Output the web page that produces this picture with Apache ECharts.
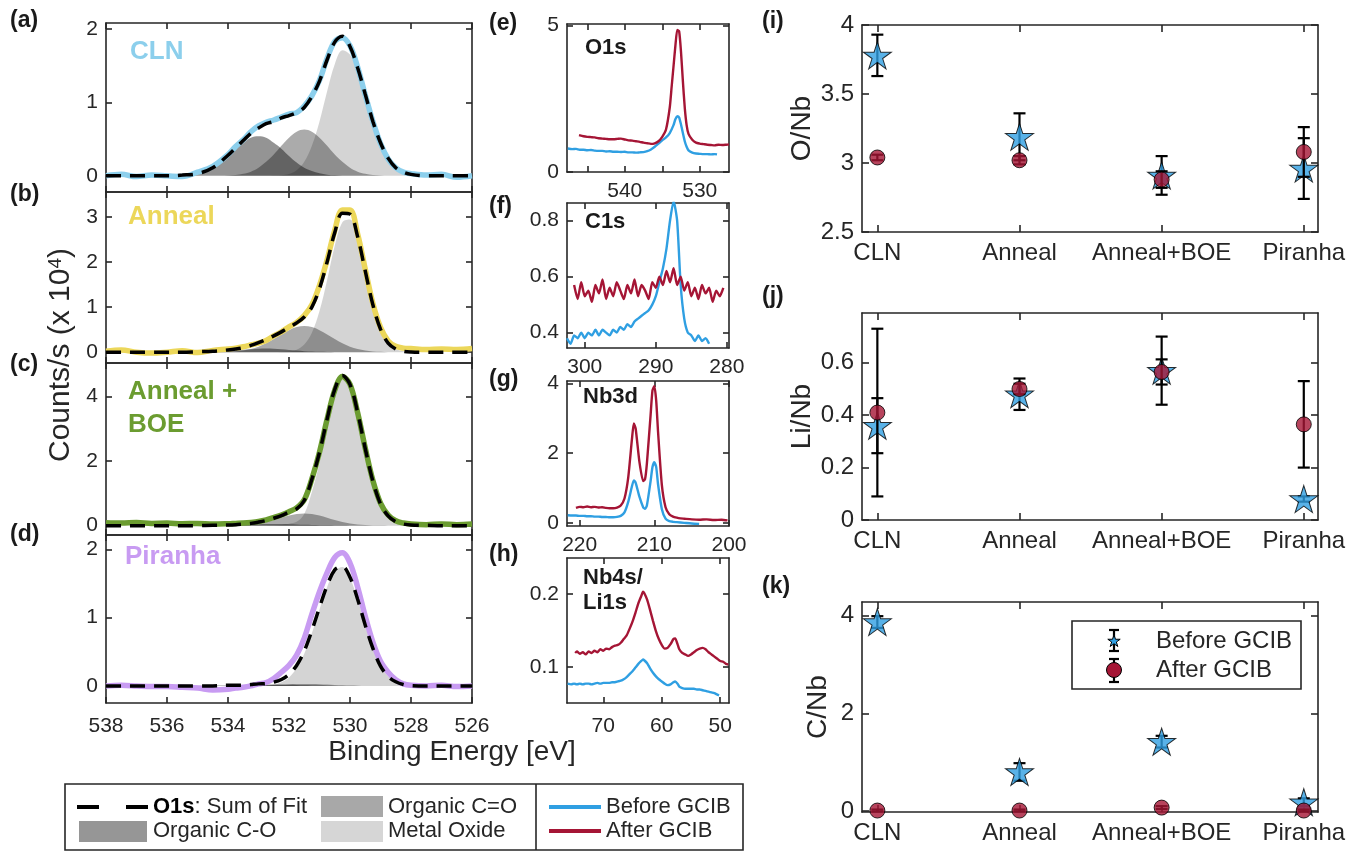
<!DOCTYPE html>
<html>
<head>
<meta charset="utf-8">
<title>XPS O1s fits and element ratios</title>
<script src="https://cdn.jsdelivr.net/npm/echarts@6/dist/echarts.min.js"></script>
<style>
  html, body { margin: 0; padding: 0; background: #fff; }
  #chart { width: 1372px; height: 853px; }
</style>
</head>
<body>
<div id="chart"></div>
<script>
// ---- (a)-(d): O1s spectra, binding energy grid shared by all four panels ----
const gridE = [538, 537.5, 537, 536.5, 536, 535.5, 535, 534.5, 534,
  533.75, 533.5, 533.25, 533, 532.75, 532.5, 532.25, 532,
  531.75, 531.5, 531.25, 531, 530.75, 530.5, 530.25, 530,
  529.75, 529.5, 529.25, 529, 528.75, 528.5, 528.25, 528,
  527.5, 527, 526.5, 526];

// CLN
const clnData = [0.00, 0.02, -0.01, 0.01, 0.00, -0.01, 0.05, 0.13, 0.29,
  0.40, 0.49, 0.60, 0.68, 0.73, 0.76, 0.80, 0.84,
  0.86, 0.95, 1.09, 1.30, 1.60, 1.83, 1.88, 1.77,
  1.48, 1.10, 0.74, 0.44, 0.23, 0.11, 0.05, 0.03,
  0.01, 0.02, -0.02, 0.00];
const clnFit = [0, 0, 0, 0, 0, 0.01, 0.03, 0.11, 0.28,
  0.38, 0.48, 0.58, 0.65, 0.71, 0.74, 0.79, 0.82,
  0.86, 0.93, 1.08, 1.29, 1.58, 1.82, 1.90, 1.76,
  1.47, 1.11, 0.74, 0.45, 0.24, 0.11, 0.05, 0.02,
  0, 0, 0, 0];
const clnCO = [0, 0, 0, 0, 0, 0.01, 0.03, 0.11, 0.27,
  0.37, 0.45, 0.52, 0.54, 0.52, 0.45, 0.37, 0.27,
  0.18, 0.11, 0.065, 0.034, 0.016, 0.007, 0, 0,
  0, 0, 0, 0, 0, 0, 0, 0,
  0, 0, 0, 0];
const clnCdO = [0, 0, 0, 0, 0, 0, 0, 0, 0.005,
  0.012, 0.028, 0.057, 0.11, 0.19, 0.29, 0.41, 0.52,
  0.60, 0.63, 0.60, 0.52, 0.41, 0.29, 0.19, 0.11,
  0.057, 0.028, 0.012, 0.005, 0, 0, 0, 0,
  0, 0, 0, 0];
const clnMO = [0, 0, 0, 0, 0, 0, 0, 0, 0,
  0, 0, 0, 0, 0, 0.003, 0.008, 0.025,
  0.075, 0.19, 0.41, 0.74, 1.15, 1.52, 1.71, 1.65,
  1.41, 1.08, 0.73, 0.44, 0.24, 0.11, 0.048, 0.018,
  0.002, 0, 0, 0];

// Anneal
const annData = [0.02, 0.05, 0.00, -0.02, 0.00, 0.03, -0.01, 0.04, 0.07,
  0.09, 0.12, 0.16, 0.20, 0.26, 0.36, 0.45, 0.56,
  0.66, 0.81, 1.05, 1.48, 2.05, 2.70, 3.15, 3.15,
  2.62, 1.84, 1.08, 0.55, 0.25, 0.13, 0.09, 0.08,
  0.06, 0.07, 0.06, 0.08];
const annFit = [0, 0, 0, 0, 0, 0, 0.01, 0.02, 0.05,
  0.07, 0.10, 0.15, 0.21, 0.28, 0.36, 0.45, 0.55,
  0.65, 0.78, 1.00, 1.41, 2.00, 2.65, 3.08, 3.06,
  2.56, 1.80, 1.05, 0.51, 0.20, 0.07, 0.02, 0.005,
  0, 0, 0, 0];
const annCO = [0, 0, 0, 0, 0, 0.005, 0.01, 0.02, 0.035,
  0.045, 0.055, 0.065, 0.075, 0.08, 0.075, 0.065, 0.05,
  0.035, 0.022, 0.013, 0.007, 0.003, 0, 0, 0,
  0, 0, 0, 0, 0, 0, 0, 0,
  0, 0, 0, 0];
const annCdO = [0, 0, 0, 0, 0, 0, 0, 0, 0.007,
  0.017, 0.036, 0.07, 0.122, 0.197, 0.29, 0.393, 0.488,
  0.556, 0.58, 0.556, 0.488, 0.393, 0.29, 0.197, 0.122,
  0.07, 0.036, 0.017, 0.007, 0, 0, 0, 0,
  0, 0, 0, 0];
const annMO = [0, 0, 0, 0, 0, 0, 0, 0, 0,
  0, 0, 0, 0, 0, 0, 0.005, 0.015,
  0.055, 0.17, 0.43, 0.91, 1.60, 2.36, 2.88, 2.94,
  2.49, 1.76, 1.03, 0.50, 0.20, 0.07, 0.02, 0.005,
  0, 0, 0, 0];

// Anneal + BOE
const boeData = [0.09, 0.08, 0.10, 0.07, 0.08, 0.06, 0.07, 0.05, 0.06,
  0.07, 0.08, 0.10, 0.13, 0.18, 0.25, 0.33, 0.43,
  0.55, 0.80, 1.45, 2.28, 3.30, 4.20, 4.62, 4.38,
  3.50, 2.40, 1.40, 0.70, 0.33, 0.15, 0.08, 0.05,
  0.03, 0.05, 0.03, 0.05];
const boeFit = [0, 0, 0, 0, 0, 0, 0, 0.01, 0.02,
  0.03, 0.05, 0.07, 0.11, 0.16, 0.23, 0.31, 0.42,
  0.52, 0.78, 1.44, 2.27, 3.30, 4.22, 4.65, 4.38,
  3.51, 2.39, 1.38, 0.67, 0.30, 0.12, 0.05, 0.02,
  0.01, 0, 0, 0];
const boeCO = [0, 0, 0, 0, 0, 0, 0.002, 0.007, 0.016,
  0.023, 0.03, 0.038, 0.044, 0.048, 0.05, 0.048, 0.044,
  0.038, 0.03, 0.023, 0.016, 0.011, 0.007, 0.003, 0,
  0, 0, 0, 0, 0, 0, 0, 0,
  0, 0, 0, 0];
const boeCdO = [0, 0, 0, 0, 0, 0, 0, 0, 0.003,
  0.007, 0.017, 0.035, 0.065, 0.112, 0.174, 0.245, 0.313,
  0.362, 0.38, 0.362, 0.313, 0.245, 0.174, 0.112, 0.065,
  0.035, 0.017, 0.007, 0.003, 0, 0, 0, 0,
  0, 0, 0, 0];
const boeMO = [0, 0, 0, 0, 0, 0, 0, 0, 0,
  0, 0, 0, 0, 0, 0.005, 0.02, 0.06,
  0.12, 0.36, 1.05, 1.94, 3.04, 4.04, 4.54, 4.31,
  3.47, 2.37, 1.37, 0.67, 0.30, 0.12, 0.05, 0.02,
  0.005, 0, 0, 0];

// Piranha
const pirData = [0.00, 0.01, 0.00, -0.01, -0.01, -0.02, -0.03, -0.06, -0.05,
  -0.03, -0.02, 0.00, 0.03, 0.05, 0.11, 0.20, 0.30,
  0.45, 0.70, 1.05, 1.38, 1.66, 1.88, 1.95, 1.80,
  1.45, 1.02, 0.64, 0.36, 0.20, 0.09, 0.03, 0.01,
  0.00, 0.01, -0.01, 0.00];
const pirFit = [0, 0, 0, 0, 0, 0, 0, 0, 0.01,
  0.01, 0.01, 0.02, 0.03, 0.035, 0.055, 0.095, 0.17,
  0.30, 0.51, 0.81, 1.15, 1.47, 1.70, 1.75, 1.59,
  1.27, 0.89, 0.55, 0.29, 0.14, 0.06, 0.02, 0.005,
  0, 0, 0, 0];
const pirCO = [0, 0, 0, 0, 0, 0, 0.002, 0.003, 0.005,
  0.008, 0.012, 0.015, 0.018, 0.019, 0.02, 0.019, 0.017,
  0.014, 0.01, 0.008, 0.005, 0.002, 0, 0, 0,
  0, 0, 0, 0, 0, 0, 0, 0,
  0, 0, 0, 0];
const pirCdO = [0, 0, 0, 0, 0, 0, 0, 0, 0,
  0, 0, 0.004, 0.007, 0.011, 0.015, 0.021, 0.026,
  0.029, 0.03, 0.029, 0.026, 0.021, 0.015, 0.011, 0.007,
  0.004, 0, 0, 0, 0, 0, 0, 0,
  0, 0, 0, 0];
const pirMO = [0, 0, 0, 0, 0, 0, 0, 0, 0,
  0, 0, 0, 0, 0.005, 0.02, 0.055, 0.125,
  0.26, 0.47, 0.77, 1.12, 1.45, 1.68, 1.74, 1.58,
  1.27, 0.89, 0.55, 0.29, 0.14, 0.06, 0.02, 0.005,
  0, 0, 0, 0];

// ---- (e)-(h): survey regions before / after GCIB, [binding energy, counts] ----
const o1sBefore = [[547.6, 0.80], [547, 0.78], [546.5, 0.79], [546, 0.76], [545.5, 0.76], [545, 0.74],
  [544.5, 0.75], [544, 0.73], [543.5, 0.72], [543, 0.72], [542.5, 0.70], [542, 0.71], [541.5, 0.69],
  [541, 0.69], [540.5, 0.68], [540, 0.69], [539.5, 0.67], [539, 0.67], [538.5, 0.66], [538, 0.67],
  [537.5, 0.68], [537, 0.71], [536.5, 0.77], [536, 0.86], [535.5, 0.97], [535, 1.08], [534.5, 1.18],
  [534, 1.33], [533.5, 1.60], [533.25, 1.80], [533, 1.90], [532.75, 1.86], [532.5, 1.62], [532.25, 1.33],
  [532, 1.05], [531.75, 0.86], [531.5, 0.74], [531, 0.66], [530.5, 0.63], [530, 0.62], [529.5, 0.61],
  [529, 0.61], [528.5, 0.60], [528, 0.61], [527.7, 0.60]];
const o1sAfter = [[546.1, 1.26], [545.5, 1.22], [545, 1.20], [544.5, 1.19], [544, 1.18], [543.5, 1.15],
  [543, 1.14], [542.5, 1.13], [542, 1.12], [541.5, 1.12], [541, 1.13], [540.5, 1.14], [540, 1.11],
  [539.5, 1.08], [539, 1.07], [538.5, 1.05], [538, 1.03], [537.5, 1.00], [537, 0.98], [536.5, 0.96],
  [536, 0.98], [535.5, 1.05], [535, 1.20], [534.5, 1.45], [534, 2.20], [533.75, 2.90], [533.5, 3.60],
  [533.25, 4.30], [533, 4.85], [532.75, 4.80], [532.5, 4.10], [532.25, 3.10], [532, 2.20], [531.75, 1.60],
  [531.5, 1.30], [531, 1.10], [530.5, 1.00], [530, 0.97], [529.5, 0.95], [529, 0.93], [528.5, 0.92],
  [528, 0.91], [527.5, 0.93], [527, 0.92], [526.5, 0.93], [526.1, 0.94]];

const c1sBefore = [[302.5, 0.38], [302, 0.36], [301.5, 0.39], [301, 0.38], [300.5, 0.40], [300, 0.38],
  [299.5, 0.40], [299, 0.39], [298.5, 0.41], [298, 0.39], [297.5, 0.41], [297, 0.40], [296.5, 0.39],
  [296, 0.41], [295.5, 0.40], [295, 0.42], [294.5, 0.41], [294, 0.43], [293.5, 0.42], [293, 0.44],
  [292.5, 0.45], [292, 0.46], [291.5, 0.47], [291, 0.48], [290.5, 0.50], [290, 0.53], [289.5, 0.58],
  [289, 0.63], [288.5, 0.70], [288, 0.80], [287.5, 0.87], [287, 0.80], [286.5, 0.57], [286, 0.45],
  [285.5, 0.40], [285, 0.39], [284.5, 0.37], [284, 0.39], [283.5, 0.37], [283, 0.38], [282.5, 0.36]];
const c1sAfter = [[301.5, 0.57], [301, 0.52], [300.5, 0.58], [300, 0.53], [299.5, 0.55], [299, 0.51],
  [298.5, 0.57], [298, 0.54], [297.5, 0.59], [297, 0.52], [296.5, 0.56], [296, 0.53], [295.5, 0.58],
  [295, 0.55], [294.5, 0.52], [294, 0.57], [293.5, 0.54], [293, 0.59], [292.5, 0.53], [292, 0.57],
  [291.5, 0.55], [291, 0.52], [290.5, 0.58], [290, 0.56], [289.5, 0.60], [289, 0.57], [288.5, 0.62],
  [288, 0.58], [287.5, 0.63], [287, 0.57], [286.5, 0.60], [286, 0.55], [285.5, 0.58], [285, 0.53],
  [284.5, 0.56], [284, 0.52], [283.5, 0.57], [283, 0.54], [282.5, 0.56], [282, 0.51], [281.5, 0.55],
  [281, 0.53], [280.5, 0.56]];

const nb3dBefore = [[221.6, 0.22], [221, 0.21], [220.5, 0.21], [220, 0.20], [219.5, 0.20], [219, 0.19],
  [218.5, 0.19], [218, 0.18], [217.5, 0.18], [217, 0.17], [216.5, 0.17], [216, 0.16], [215.5, 0.16],
  [215, 0.17], [214.5, 0.20], [214, 0.30], [213.5, 0.60], [213, 1.05], [212.75, 1.22], [212.5, 1.15],
  [212, 0.75], [211.5, 0.45], [211.25, 0.40], [211, 0.50], [210.5, 1.20], [210.25, 1.60], [210, 1.74],
  [209.75, 1.60], [209.5, 1.10], [209, 0.40], [208.5, 0.12], [208, 0.05], [207.5, 0.03], [207, 0.02],
  [206, 0.00], [205, -0.02], [204, -0.03]];
const nb3dAfter = [[220.5, 0.43], [220, 0.46], [219.5, 0.45], [219, 0.47], [218.5, 0.45], [218, 0.46],
  [217.5, 0.44], [217, 0.45], [216.5, 0.43], [216, 0.42], [215.5, 0.42], [215, 0.44], [214.5, 0.50],
  [214, 0.70], [213.5, 1.30], [213, 2.40], [212.75, 2.85], [212.5, 2.70], [212, 1.75], [211.5, 1.20],
  [211.25, 1.25], [211, 1.70], [210.5, 3.10], [210.25, 3.80], [210, 3.92], [209.75, 3.50], [209.5, 2.60],
  [209, 1.10], [208.5, 0.45], [208, 0.25], [207.5, 0.18], [207, 0.15], [206.5, 0.13], [206, 0.12],
  [205, 0.10], [204, 0.09], [203, 0.10], [202, 0.08], [201, 0.09], [200.2, 0.07]];

const nb4sBefore = [[76.1, 0.077], [75.5, 0.076], [75, 0.077], [74.5, 0.076], [74, 0.077], [73.5, 0.076],
  [73, 0.077], [72.5, 0.077], [72, 0.076], [71.5, 0.077], [71, 0.078], [70.5, 0.077], [70, 0.078],
  [69.5, 0.078], [69, 0.078], [68.5, 0.079], [68, 0.079], [67.5, 0.080], [67, 0.081], [66.5, 0.083],
  [66, 0.086], [65.5, 0.090], [65, 0.094], [64.5, 0.099], [64, 0.104], [63.5, 0.108], [63.2, 0.110],
  [63, 0.109], [62.5, 0.105], [62, 0.098], [61.5, 0.092], [61, 0.087], [60.5, 0.083], [60, 0.080],
  [59.5, 0.077], [59, 0.075], [58.5, 0.076], [58, 0.079], [57.7, 0.080], [57.3, 0.077], [57, 0.073],
  [56.5, 0.071], [56, 0.070], [55.5, 0.070], [55, 0.070], [54.5, 0.070], [54, 0.069], [53.5, 0.069],
  [53, 0.068], [52.5, 0.067], [52, 0.066], [51.5, 0.065], [51, 0.064], [50.5, 0.062], [50.2, 0.061]];
const nb4sAfter = [[74.8, 0.119], [74.5, 0.121], [74, 0.118], [73.5, 0.120], [73, 0.117], [72.5, 0.121],
  [72, 0.119], [71.5, 0.122], [71, 0.120], [70.5, 0.124], [70, 0.122], [69.5, 0.125], [69, 0.124],
  [68.5, 0.127], [68, 0.129], [67.5, 0.130], [67, 0.133], [66.5, 0.138], [66, 0.143], [65.5, 0.152],
  [65, 0.162], [64.5, 0.174], [64, 0.187], [63.5, 0.197], [63.2, 0.203], [63, 0.201], [62.5, 0.192],
  [62, 0.178], [61.5, 0.163], [61, 0.149], [60.5, 0.138], [60, 0.130], [59.5, 0.125], [59, 0.126],
  [58.5, 0.131], [58, 0.138], [57.7, 0.139], [57.3, 0.131], [57, 0.124], [56.5, 0.119], [56, 0.117],
  [55.5, 0.115], [55, 0.117], [54.5, 0.120], [54, 0.123], [53.5, 0.125], [53, 0.126], [52.5, 0.124],
  [52, 0.120], [51.5, 0.117], [51, 0.114], [50.5, 0.111], [50, 0.108], [49.5, 0.107], [49, 0.104],
  [48.6, 0.103]];

// ---- (i)-(k): ratios per treatment ----
const treatments = ['CLN', 'Anneal', 'Anneal+BOE', 'Piranha'];
const oNbBefore = [3.78, 3.19, 2.91, 2.96];
const oNbBeforeErr = [0.15, 0.17, 0.14, 0.22];
const oNbAfter = [3.04, 3.02, 2.88, 3.08];
const oNbAfterErr = [0.02, 0.03, 0.06, 0.18];
const liNbBefore = [0.36, 0.48, 0.57, 0.08];
const liNbBeforeErr = [0.105, 0.06, 0.13, 0.01];
const liNbAfter = [0.41, 0.50, 0.565, 0.365];
const liNbAfterErr = [0.32, 0.02, 0.048, 0.165];
const cNbBefore = [3.87, 0.80, 1.42, 0.18];
const cNbBeforeErr = [0.12, 0.18, 0.12, 0.08];
const cNbAfter = [0.01, 0.01, 0.07, 0.01];
const cNbAfterErr = [0.02, 0.02, 0.03, 0.02];

[clnData, clnFit, clnCO, clnCdO, clnMO, annData, annFit, annCO, annCdO, annMO,
 boeData, boeFit, boeCO, boeCdO, boeMO, pirData, pirFit, pirCO, pirCdO, pirMO].forEach((a, i) => {
  if (a.length !== gridE.length) throw new Error('spectrum array ' + i + ' has ' + a.length + ' points');
});

// ---- styling ----
const SANS = '"Liberation Sans", Arial, Helvetica, sans-serif';
const INK = '#262626';
const BEFORE = '#2f9fe2';
const AFTER = '#a51535';
const FILL_CO = 'rgba(0,0,0,0.42)';
const FILL_CDO = 'rgba(0,0,0,0.33)';
const FILL_MO = 'rgba(0,0,0,0.17)';
// pentagram outline in a 100x100 box
const STAR_PTS = [[50, 0], [61.2, 34.6], [97.6, 34.5], [68.1, 55.9], [79.4, 90.5],
  [50, 69], [20.6, 90.5], [31.9, 55.9], [2.4, 34.5], [38.8, 34.6]];
const STAR = 'M' + STAR_PTS.map(p => p[0] + ' ' + p[1]).join(' L') + ' Z';

const grids = [], xAxes = [], yAxes = [], series = [];

// one boxed panel: bottom/left axes carry labels, top/right mirror the ticks
function addPanel(rect, xs, ys) {
  const g = grids.length;
  grids.push({ left: rect[0], top: rect[1], width: rect[2], height: rect[3] });
  const axis = (o, pos, main) => {
    const a = {
      type: 'value', gridIndex: g, position: pos, min: o.min, max: o.max, inverse: !!o.inverse,
      axisLine: { show: true, onZero: false, lineStyle: { color: INK, width: 1.6 } },
      splitLine: { show: false },
      axisTick: { show: true, inside: true, length: o.tickLen || 6, customValues: o.ticks,
        lineStyle: { color: INK, width: 1.6 } },
      axisLabel: { show: false }
    };
    if (main && o.labels) {
      a.axisLabel = { show: true, customValues: o.labels, fontSize: o.fs || 21, fontFamily: SANS,
        color: INK, margin: o.margin || 8 };
      if (o.fmt) a.axisLabel.formatter = o.fmt;
    }
    if (main && o.name) {
      a.name = o.name;
      a.nameLocation = 'middle';
      a.nameGap = o.nameGap;
      a.nameTextStyle = { fontSize: 28, fontFamily: SANS, color: INK };
    }
    return a;
  };
  xAxes.push(axis(xs, 'bottom', true), axis(xs, 'top', false));
  yAxes.push(axis(ys, 'left', true), axis(ys, 'right', false));
  return { x: xAxes.length - 2, y: yAxes.length - 2 };
}

function spectrum(ax, data, fit, co, cdo, mo, color) {
  const pts = arr => gridE.map((e, i) => [e, arr[i]]);
  const base = { type: 'line', xAxisIndex: ax.x, yAxisIndex: ax.y, symbol: 'none', silent: true, smooth: 0.35 };
  const area = fill => ({ lineStyle: { opacity: 0, width: 0 }, areaStyle: { color: fill, opacity: 1 }, z: 1 });
  series.push(
    Object.assign({ data: pts(mo) }, base, area(FILL_MO)),
    Object.assign({ data: pts(cdo) }, base, area(FILL_CDO)),
    Object.assign({ data: pts(co) }, base, area(FILL_CO)),
    Object.assign({ data: pts(data), lineStyle: { color: color, width: 5.5 }, z: 2 }, base),
    Object.assign({ data: pts(fit), lineStyle: { color: '#000', width: 3.5, type: [15, 9] }, z: 3 }, base)
  );
}

function trace(ax, pts, color) {
  series.push({ type: 'line', xAxisIndex: ax.x, yAxisIndex: ax.y, data: pts, symbol: 'none',
    silent: true, smooth: 0.2, lineStyle: { color: color, width: 2.4 }, z: 2 });
}

function errorBars(ax, vals, errs, z) {
  series.push({
    type: 'custom', xAxisIndex: ax.x, yAxisIndex: ax.y, silent: true, z: z, clip: false,
    data: vals.map((v, i) => [i + 1, v - errs[i], v + errs[i]]),
    renderItem: (params, api) => {
      const lo = api.coord([api.value(0), api.value(1)]);
      const hi = api.coord([api.value(0), api.value(2)]);
      const w = 6, st = { stroke: '#000', lineWidth: 2.2 };
      return { type: 'group', children: [
        { type: 'line', shape: { x1: lo[0], y1: lo[1], x2: hi[0], y2: hi[1] }, style: st },
        { type: 'line', shape: { x1: lo[0] - w, y1: lo[1], x2: lo[0] + w, y2: lo[1] }, style: st },
        { type: 'line', shape: { x1: hi[0] - w, y1: hi[1], x2: hi[0] + w, y2: hi[1] }, style: st }
      ] };
    }
  });
}

function ratioPanel(ax, before, beforeErr, after, afterErr) {
  errorBars(ax, before, beforeErr, 3);
  series.push({ type: 'scatter', xAxisIndex: ax.x, yAxisIndex: ax.y, silent: true, z: 4,
    data: before.map((v, i) => [i + 1, v]), symbol: 'path://' + STAR, symbolSize: [28, 27],
    itemStyle: { color: BEFORE, borderColor: '#000', borderWidth: 1 } });
  errorBars(ax, after, afterErr, 5);
  series.push({ type: 'scatter', xAxisIndex: ax.x, yAxisIndex: ax.y, silent: true, z: 6,
    data: after.map((v, i) => [i + 1, v]), symbol: 'circle', symbolSize: 15,
    itemStyle: { color: AFTER, borderColor: '#000', borderWidth: 1 } });
}

// ---- panels ----
const beTicks = [538, 536, 534, 532, 530, 528, 526];
const beX = (labels) => ({ min: 526, max: 538, inverse: true, ticks: beTicks, labels: labels, margin: 13 });

const axA = addPanel([106, 23, 366, 169], beX(null), { min: -0.22, max: 2.08, ticks: [0, 1, 2], labels: [0, 1, 2] });
const axB = addPanel([106, 192, 366, 171], beX(null), { min: -0.24, max: 3.55, ticks: [0, 1, 2, 3], labels: [0, 1, 2, 3] });
const axC = addPanel([106, 363, 366, 172], beX(null), { min: -0.29, max: 5.04, ticks: [0, 2, 4], labels: [0, 2, 4] });
const axD = addPanel([106, 535, 366, 168], beX(beTicks), { min: -0.25, max: 2.21, ticks: [0, 1, 2], labels: [0, 1, 2] });

spectrum(axA, clnData, clnFit, clnCO, clnCdO, clnMO, '#8ccfec');
spectrum(axB, annData, annFit, annCO, annCdO, annMO, '#ecd75a');
spectrum(axC, boeData, boeFit, boeCO, boeCdO, boeMO, '#6b9c30');
spectrum(axD, pirData, pirFit, pirCO, pirCdO, pirMO, '#c89bf2');

const axE = addPanel([567, 24, 162, 148],
  { min: 526.1, max: 547.7, inverse: true, ticks: [530, 535, 540, 545], labels: [530, 540], margin: 9 },
  { min: 0, max: 5.05, ticks: [0, 5], labels: [0, 5] });
const axF = addPanel([567, 203, 162, 145],
  { min: 279.7, max: 302.5, inverse: true, ticks: [280, 290, 300], labels: [280, 290, 300], margin: 9 },
  { min: 0.345, max: 0.863, ticks: [0.4, 0.6, 0.8], labels: [0.4, 0.6, 0.8] });
const axG = addPanel([567, 381, 162, 145],
  { min: 200, max: 221.7, inverse: true, ticks: [200, 210, 220], labels: [200, 210, 220], margin: 9 },
  { min: -0.09, max: 4.07, ticks: [0, 2, 4], labels: [0, 2, 4] });
const axH = addPanel([567, 558, 162, 145],
  { min: 48.5, max: 76.2, inverse: true, ticks: [50, 60, 70], labels: [50, 60, 70], margin: 13 },
  { min: 0.0505, max: 0.249, ticks: [0.1, 0.2], labels: [0.1, 0.2] });

trace(axE, o1sBefore, BEFORE); trace(axE, o1sAfter, AFTER);
trace(axF, c1sBefore, BEFORE); trace(axF, c1sAfter, AFTER);
trace(axG, nb3dBefore, BEFORE); trace(axG, nb3dAfter, AFTER);
trace(axH, nb4sBefore, BEFORE); trace(axH, nb4sAfter, AFTER);

const catX = { min: 0.892, max: 4.1, ticks: [1, 2, 3, 4], labels: [1, 2, 3, 4], fs: 24, margin: 9, tickLen: 7,
  fmt: v => treatments[Math.round(v) - 1] };
const axI = addPanel([862, 25, 456, 207], catX,
  { min: 2.5, max: 4, ticks: [2.5, 3, 3.5, 4], labels: [2.5, 3, 3.5, 4], fs: 24, tickLen: 7, name: 'O/Nb', nameGap: 44 });
const axJ = addPanel([862, 313, 456, 207], catX,
  { min: 0, max: 0.79, ticks: [0, 0.2, 0.4, 0.6], labels: [0, 0.2, 0.4, 0.6], fs: 24, tickLen: 7, name: 'Li/Nb', nameGap: 44 });
const axK = addPanel([862, 602, 456, 210], catX,
  { min: -0.02, max: 4.28, ticks: [0, 2, 4], labels: [0, 2, 4], fs: 24, tickLen: 7, name: 'C/Nb', nameGap: 30 });

ratioPanel(axI, oNbBefore, oNbBeforeErr, oNbAfter, oNbAfterErr);
ratioPanel(axJ, liNbBefore, liNbBeforeErr, liNbAfter, liNbAfterErr);
ratioPanel(axK, cNbBefore, cNbBeforeErr, cNbAfter, cNbAfterErr);

// ---- annotations and legends ----
const gfx = [];
function txt(x, y, text, size, opts) {
  gfx.push({ type: 'text', x: x, y: y, z: 100, silent: true,
    style: Object.assign({ text: text, fontSize: size, fontFamily: SANS, fill: INK,
      align: 'left', verticalAlign: 'middle' }, opts || {}) });
}
const bold = { fontWeight: 'bold', fill: '#1a1a1a' };
[['(a)', 10, 21], ['(b)', 10, 195], ['(c)', 10, 365], ['(d)', 10, 535],
 ['(e)', 489, 24], ['(f)', 489, 207], ['(g)', 489, 380], ['(h)', 489, 555],
 ['(i)', 762, 22], ['(j)', 762, 297], ['(k)', 762, 587]].forEach(p => txt(p[1], p[2], p[0], 23, bold));

txt(130, 52, 'CLN', 26, { fontWeight: 'bold', fill: '#8ccfec' });
txt(128, 217, 'Anneal', 26, { fontWeight: 'bold', fill: '#ecd75a' });
txt(128, 392, 'Anneal +', 26, { fontWeight: 'bold', fill: '#6b9c30' });
txt(128, 425, 'BOE', 26, { fontWeight: 'bold', fill: '#6b9c30' });
txt(125, 557, 'Piranha', 26, { fontWeight: 'bold', fill: '#c89bf2' });

txt(585, 48, 'O1s', 22, bold);
txt(585, 222, 'C1s', 22, bold);
txt(583, 397, 'Nb3d', 22, bold);
txt(583, 578, 'Nb4s/', 22, bold);
txt(583, 603, 'Li1s', 22, bold);

txt(452, 752, 'Binding Energy [eV]', 28, { align: 'center' });
gfx.push({ type: 'text', x: 61, y: 355, rotation: Math.PI / 2, z: 100, silent: true,
  style: { text: 'Counts/s (x 10{s|4})', fontSize: 30, fontFamily: SANS, fill: INK,
    align: 'center', verticalAlign: 'middle',
    rich: { s: { fontSize: 19, fontFamily: SANS, fill: INK, verticalAlign: 'top', lineHeight: 30 } } } });

// bottom legend box for (a)-(h)
const r1 = 807, r2 = 831;
gfx.push({ type: 'rect', z: 99, silent: true, shape: { x: 65, y: 784, width: 678, height: 66 },
  style: { fill: '#fff', stroke: INK, lineWidth: 1.6 } });
gfx.push({ type: 'line', z: 100, silent: true, shape: { x1: 536, y1: 784, x2: 536, y2: 850 },
  style: { stroke: INK, lineWidth: 1.6 } });
gfx.push({ type: 'line', z: 100, silent: true, shape: { x1: 77, y1: r1, x2: 148, y2: r1 },
  style: { stroke: '#000', lineWidth: 4, lineDash: [22, 27] } });
txt(153, r1, '{b|O1s}: Sum of Fit', 22, { rich: { b: { fontWeight: 'bold', fontSize: 22, fontFamily: SANS, fill: '#000' } } });
gfx.push({ type: 'rect', z: 100, silent: true, shape: { x: 321, y: r1 - 11, width: 62, height: 21 }, style: { fill: '#a8a8a8' } });
txt(388, r1, 'Organic C=O', 22);
gfx.push({ type: 'rect', z: 100, silent: true, shape: { x: 79, y: r2 - 10, width: 68, height: 21 }, style: { fill: '#969696' } });
txt(153, r2, 'Organic C-O', 22);
gfx.push({ type: 'rect', z: 100, silent: true, shape: { x: 321, y: r2 - 10, width: 62, height: 21 }, style: { fill: '#d6d6d6' } });
txt(388, r2, 'Metal Oxide', 22);
gfx.push({ type: 'line', z: 100, silent: true, shape: { x1: 549, y1: r1, x2: 601, y2: r1 }, style: { stroke: BEFORE, lineWidth: 4 } });
txt(606, r1, 'Before GCIB', 22);
gfx.push({ type: 'line', z: 100, silent: true, shape: { x1: 549, y1: r2, x2: 601, y2: r2 }, style: { stroke: AFTER, lineWidth: 4 } });
txt(606, r2, 'After GCIB', 22);

// legend inside (k)
gfx.push({ type: 'rect', z: 99, silent: true, shape: { x: 1072, y: 621, width: 229, height: 68 },
  style: { fill: '#fff', stroke: INK, lineWidth: 1.6 } });
function legendBar(cx, y1, y2) {
  const st = { stroke: '#000', lineWidth: 2.2 };
  gfx.push({ type: 'line', z: 100, silent: true, shape: { x1: cx, y1: y1, x2: cx, y2: y2 }, style: st });
  gfx.push({ type: 'line', z: 100, silent: true, shape: { x1: cx - 5, y1: y1, x2: cx + 5, y2: y1 }, style: st });
  gfx.push({ type: 'line', z: 100, silent: true, shape: { x1: cx - 5, y1: y2, x2: cx + 5, y2: y2 }, style: st });
}
legendBar(1114, 630, 651);
gfx.push({ type: 'polygon', z: 101, silent: true,
  shape: { points: STAR_PTS.map(p => [1114 + (p[0] - 50) * 0.13, 641 + (p[1] - 48) * 0.13]) },
  style: { fill: BEFORE, stroke: '#000', lineWidth: 1 } });
txt(1156, 641, 'Before GCIB', 24);
legendBar(1114, 659, 682);
gfx.push({ type: 'circle', z: 101, silent: true, shape: { cx: 1114, cy: 670, r: 7.5 },
  style: { fill: AFTER, stroke: '#000', lineWidth: 1 } });
txt(1156, 670, 'After GCIB', 24);

const chart = echarts.init(document.getElementById('chart'), null, { renderer: 'canvas' });
chart.setOption({
  animation: false,
  backgroundColor: '#fff',
  textStyle: { fontFamily: SANS },
  grid: grids,
  xAxis: xAxes,
  yAxis: yAxes,
  series: series,
  graphic: { elements: gfx }
});
</script>
</body>
</html>
